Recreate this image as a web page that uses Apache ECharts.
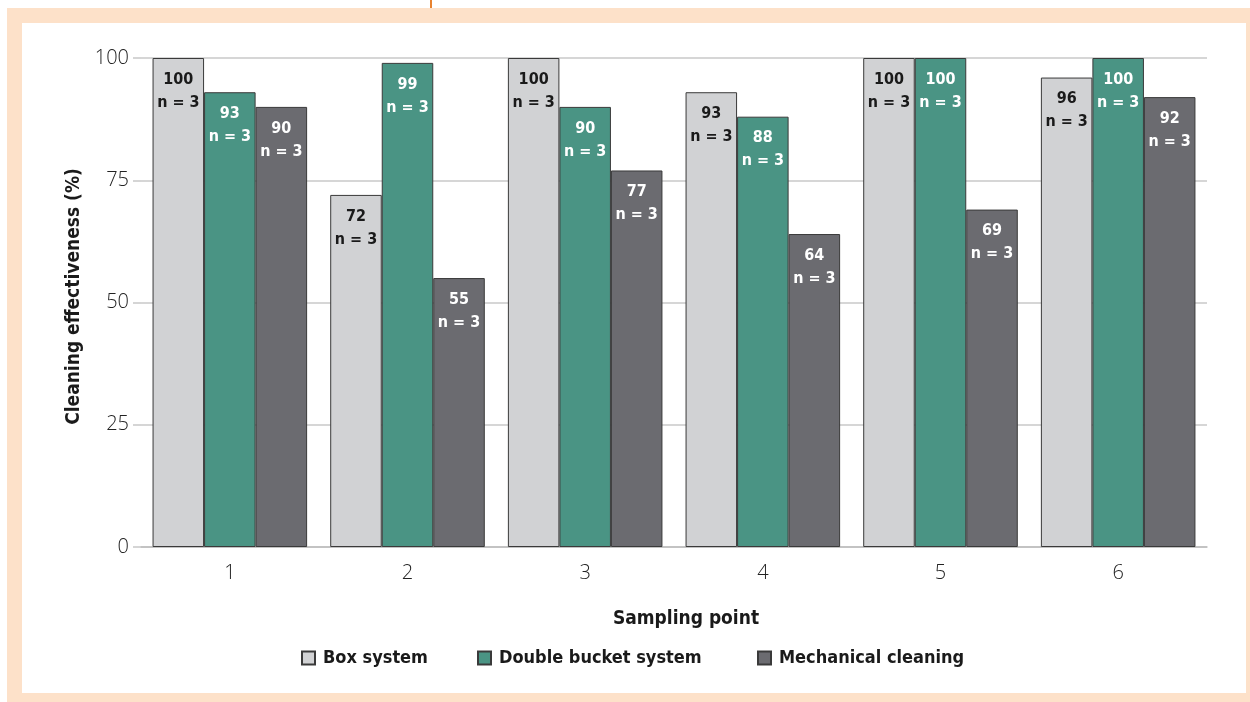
<!DOCTYPE html>
<html>
<head>
<meta charset="utf-8">
<script src="https://cdn.jsdelivr.net/npm/echarts@6/dist/echarts.min.js"></script>
<style>
html,body{margin:0;padding:0;background:#fff;width:1250px;height:702px;overflow:hidden;position:relative;}
#frame{position:absolute;left:7px;top:8px;width:1243px;height:694px;background:#fde1c9;}
#inner{position:absolute;left:22px;top:23px;width:1224px;height:670px;background:#fff;}
#tick{position:absolute;left:430px;top:0;width:2px;height:8px;background:#e8822e;}
#chart{position:absolute;left:0;top:0;width:1250px;height:702px;}
</style>
</head>
<body>
<div id="frame"></div>
<div id="inner"></div>
<div id="tick"></div>
<div id="chart"></div>
<script>
const categories = ['1', '2', '3', '4', '5', '6'];
const boxSystem = [100, 72, 100, 93, 100, 96];
const doubleBucket = [93, 99, 90, 88, 100, 100];
const mechanical = [90, 55, 77, 64, 69, 92];
const sampleSizes = [3, 3, 3, 3, 3, 3];
const yTicks = [0, 25, 50, 75, 100];
const seriesNames = ['Box system', 'Double bucket system', 'Mechanical cleaning'];

const chart = echarts.init(document.getElementById('chart'), null, {renderer: 'canvas'});
const condensed = '"DejaVu Sans Condensed", "Liberation Sans Narrow", sans-serif';
const light = '"Open Sans", "Liberation Sans", sans-serif';

function mkSeries(name, data, color, textColor) {
  return {
    name: name,
    type: 'bar',
    data: data,
    barGap: '0%',
    barCategoryGap: '13%',
    itemStyle: {color: color, borderColor: '#3a3a3a', borderWidth: 1},
    label: {
      show: true,
      position: 'insideTop',
      distance: 10,
      formatter: function (p) { return p.value + '\nn = ' + sampleSizes[p.dataIndex]; },
      color: textColor,
      fontFamily: condensed,
      fontWeight: 'bold',
      fontSize: 16,
      lineHeight: 23
    }
  };
}

function mkLegend(name, left) {
  return {
    data: [name],
    left: left,
    top: 649,
    padding: 0,
    itemWidth: 13,
    itemHeight: 13,
    icon: 'rect',
    itemGap: 0,
    textStyle: {fontFamily: condensed, fontWeight: 'bold', fontSize: 18, color: '#1a1a1a', padding: [0, 0, 0, 3]}
  };
}

chart.setOption({
  backgroundColor: 'transparent',
  animation: false,
  grid: {left: 141, right: 43, top: 58, bottom: 155, containLabel: false},
  legend: [
    mkLegend(seriesNames[0], 301),
    mkLegend(seriesNames[1], 477),
    mkLegend(seriesNames[2], 757)
  ],
  xAxis: {
    type: 'category',
    data: categories,
    name: 'Sampling point',
    nameLocation: 'middle',
    nameGap: 63,
    nameTextStyle: {fontFamily: condensed, fontWeight: 'bold', fontSize: 19, color: '#1a1a1a', padding: [0, 0, 0, 24]},
    axisLine: {show: true, lineStyle: {color: '#bdbdbd', width: 1.5}},
    axisTick: {show: false},
    axisLabel: {fontFamily: light, fontWeight: 300, fontSize: 20, color: '#222', margin: 16}
  },
  yAxis: {
    type: 'value',
    min: 0,
    max: 100,
    interval: 25,
    name: 'Cleaning effectiveness (%)',
    nameLocation: 'middle',
    nameGap: 56,
    nameTextStyle: {fontFamily: condensed, fontWeight: 'bold', fontSize: 19, color: '#1a1a1a', padding: [0, 0, 0, 12]},
    axisLine: {show: false},
    axisTick: {show: true, length: 8, lineStyle: {color: '#c8c8c8', width: 1.5}},
    splitLine: {show: true, lineStyle: {color: '#c8c8c8', width: 1.5}},
    axisLabel: {
      fontFamily: light, fontWeight: 300, fontSize: 20, color: '#222', margin: 12,
      formatter: function (v) { return yTicks.indexOf(v) >= 0 ? String(v) : ''; }
    }
  },
  series: [
    mkSeries(seriesNames[0], boxSystem, '#d1d2d4', '#1a1a1a'),
    mkSeries(seriesNames[1], doubleBucket, '#4a9484', '#ffffff'),
    mkSeries(seriesNames[2], mechanical, '#6b6b70', '#ffffff')
  ]
});
</script>
</body>
</html>
